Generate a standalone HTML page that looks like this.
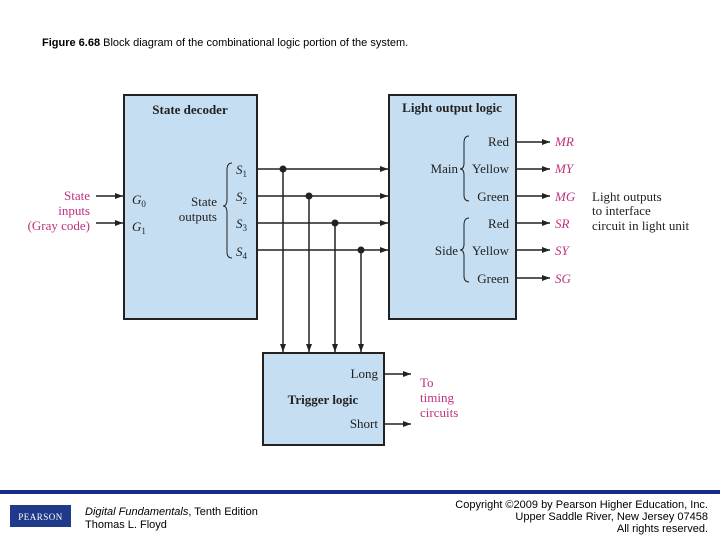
<!DOCTYPE html>
<html><head><meta charset="utf-8"><style>
body{margin:0;background:#fff;width:720px;height:540px;overflow:hidden}
svg{display:block}
.s{font-family:"Liberation Serif",serif;font-size:13px;fill:#222}
.b{font-weight:bold}
.m{fill:#c0307f}
.i{font-style:italic}
.a{font-family:"Liberation Sans",sans-serif;font-size:11px;fill:#000}
</style></head><body>
<svg width="720" height="540" viewBox="0 0 720 540">
<defs><marker id="ar" markerWidth="8" markerHeight="6" refX="8" refY="3" orient="auto" markerUnits="userSpaceOnUse"><path d="M0,0 L8,3 L0,6 z" fill="#222"/></marker></defs>
<text x="42" y="46" class="a"><tspan font-weight="bold">Figure 6.68</tspan>   Block diagram of the combinational logic portion of the system.</text>
<rect x="124" y="95" width="133" height="224" fill="#c5def2" stroke="#222" stroke-width="2"/>
<rect x="389" y="95" width="127" height="224" fill="#c5def2" stroke="#222" stroke-width="2"/>
<rect x="263" y="353" width="121" height="92" fill="#c5def2" stroke="#222" stroke-width="2"/>
<text x="190" y="114" class="s b" text-anchor="middle">State decoder</text>
<text x="452" y="112" class="s b" text-anchor="middle">Light output logic</text>
<text x="323" y="404" class="s b" text-anchor="middle">Trigger logic</text>
<g class="s m" text-anchor="end"><text x="90" y="200">State</text><text x="90" y="215">inputs</text><text x="90" y="230">(Gray code)</text></g>
<g stroke="#222" stroke-width="1.5" fill="none">
<line x1="96" y1="196" x2="123" y2="196" marker-end="url(#ar)"/>
<line x1="96" y1="223" x2="123" y2="223" marker-end="url(#ar)"/>
<line x1="257" y1="169" x2="388" y2="169" marker-end="url(#ar)"/>
<line x1="257" y1="196" x2="388" y2="196" marker-end="url(#ar)"/>
<line x1="257" y1="223" x2="388" y2="223" marker-end="url(#ar)"/>
<line x1="257" y1="250" x2="388" y2="250" marker-end="url(#ar)"/>
<line x1="283" y1="169" x2="283" y2="352" marker-end="url(#ar)"/>
<line x1="309" y1="196" x2="309" y2="352" marker-end="url(#ar)"/>
<line x1="335" y1="223" x2="335" y2="352" marker-end="url(#ar)"/>
<line x1="361" y1="250" x2="361" y2="352" marker-end="url(#ar)"/>
<line x1="516" y1="142" x2="550" y2="142" marker-end="url(#ar)"/>
<line x1="516" y1="169" x2="550" y2="169" marker-end="url(#ar)"/>
<line x1="516" y1="196" x2="550" y2="196" marker-end="url(#ar)"/>
<line x1="516" y1="223" x2="550" y2="223" marker-end="url(#ar)"/>
<line x1="516" y1="250" x2="550" y2="250" marker-end="url(#ar)"/>
<line x1="516" y1="278" x2="550" y2="278" marker-end="url(#ar)"/>
<line x1="384" y1="374" x2="411" y2="374" marker-end="url(#ar)"/>
<line x1="384" y1="424" x2="411" y2="424" marker-end="url(#ar)"/>
<path d="M232,163 Q227,163 227,170 L227,199 Q227,206 223,206 Q227,206 227,213 L227,252 Q227,258 232,258" stroke-width="1"/>
<path d="M469,136 Q464,136 464,143 L464,163 Q464,169 460,169 Q464,169 464,175 L464,195 Q464,201 469,201" stroke-width="1"/>
<path d="M469,218 Q464,218 464,225 L464,244 Q464,250 460,250 Q464,250 464,256 L464,276 Q464,282 469,282" stroke-width="1"/>
</g>
<g fill="#222"><circle cx="283" cy="169" r="3.5"/><circle cx="309" cy="196" r="3.5"/><circle cx="335" cy="223" r="3.5"/><circle cx="361" cy="250" r="3.5"/></g>
<g class="s i"><text x="132" y="204">G<tspan font-size="9" dy="3" font-style="normal">0</tspan></text><text x="132" y="231">G<tspan font-size="9" dy="3" font-style="normal">1</tspan></text>
<text x="236" y="174">S<tspan font-size="9" dy="3" font-style="normal">1</tspan></text><text x="236" y="201">S<tspan font-size="9" dy="3" font-style="normal">2</tspan></text><text x="236" y="228">S<tspan font-size="9" dy="3" font-style="normal">3</tspan></text><text x="236" y="256">S<tspan font-size="9" dy="3" font-style="normal">4</tspan></text></g>
<g class="s" text-anchor="end"><text x="217" y="206">State</text><text x="217" y="221">outputs</text>
<text x="509" y="146">Red</text><text x="509" y="173">Yellow</text><text x="509" y="201">Green</text>
<text x="509" y="228">Red</text><text x="509" y="255">Yellow</text><text x="509" y="283">Green</text>
<text x="458" y="173">Main</text><text x="458" y="255">Side</text>
<text x="378" y="378">Long</text><text x="378" y="428">Short</text></g>
<g class="s m i"><text x="555" y="146">MR</text><text x="555" y="173">MY</text><text x="555" y="201">MG</text><text x="555" y="228">SR</text><text x="555" y="255">SY</text><text x="555" y="283">SG</text></g>
<g class="s"><text x="592" y="201">Light outputs</text><text x="592" y="215">to interface</text><text x="592" y="230">circuit in light unit</text></g>
<g class="s m"><text x="420" y="387">To</text><text x="420" y="402">timing</text><text x="420" y="417">circuits</text></g>
<rect x="0" y="490" width="720" height="4" fill="#1a2a8a"/>
<rect x="10" y="505" width="61" height="22" fill="#1f3a8a"/>
<text x="40.5" y="520" font-family="Liberation Serif,serif" font-size="9" fill="#fff" text-anchor="middle" letter-spacing="0.5">PEARSON</text>
<text x="85" y="515" class="a"><tspan font-style="italic">Digital Fundamentals</tspan>, Tenth Edition</text>
<text x="85" y="528" class="a">Thomas L. Floyd</text>
<g class="a" text-anchor="end" font-size="10"><text x="708" y="508">Copyright ©2009 by Pearson Higher Education, Inc.</text><text x="708" y="520">Upper Saddle River, New Jersey 07458</text><text x="708" y="532">All rights reserved.</text></g>
</svg>
</body></html>
